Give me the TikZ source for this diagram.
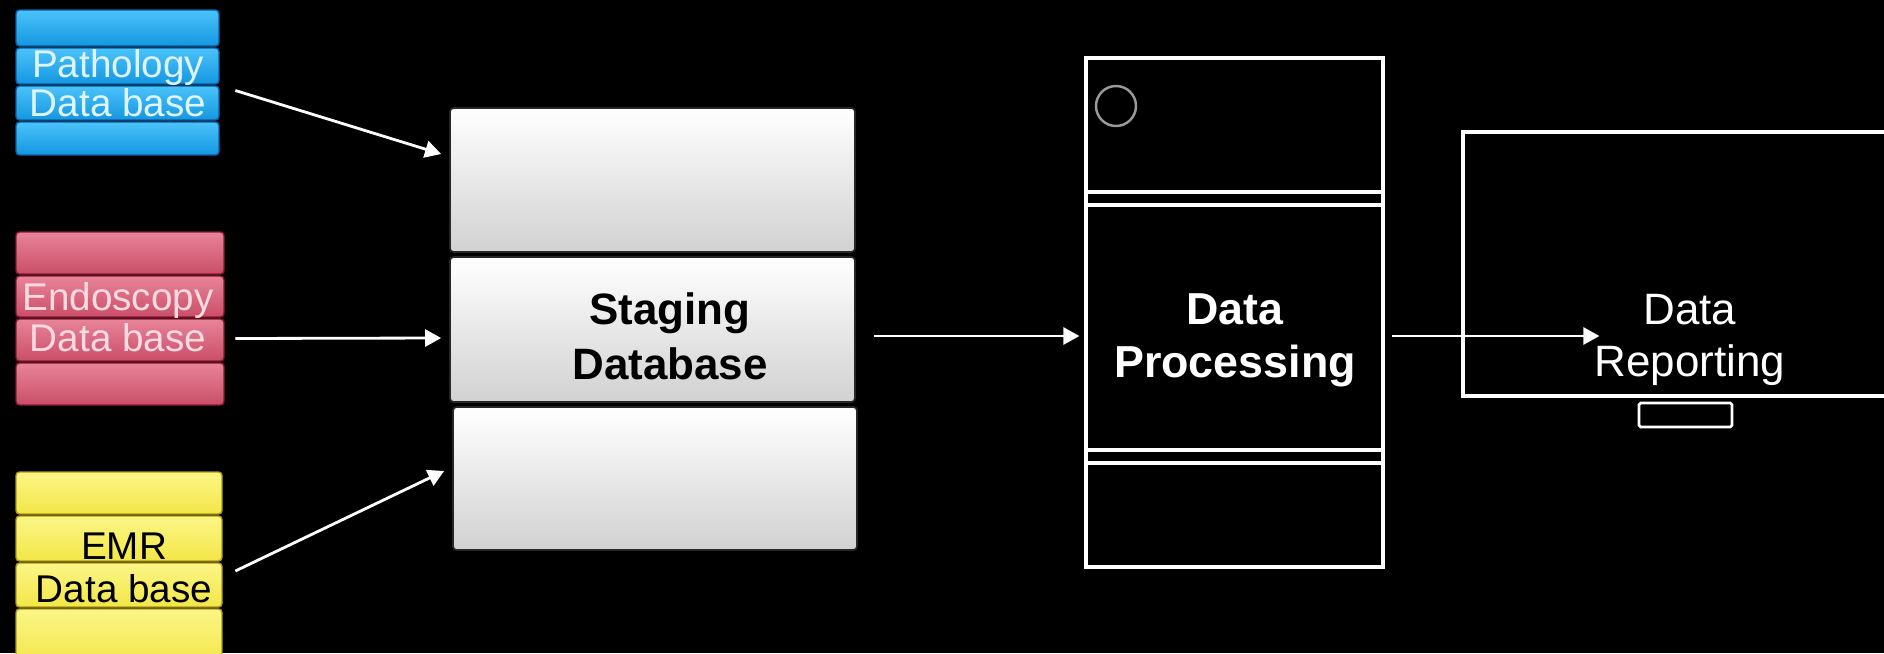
\documentclass[tikz,border=0pt]{standalone}
\usepackage{fontspec}
\setmainfont{Liberation Sans}
\usetikzlibrary{arrows.meta,fit}
\definecolor{blueT}{RGB}{75,195,250}
\definecolor{blueB}{RGB}{20,150,225}
\definecolor{blueS}{RGB}{10,95,165}
\definecolor{pinkT}{RGB}{232,132,152}
\definecolor{pinkB}{RGB}{202,78,104}
\definecolor{pinkS}{RGB}{140,25,50}
\definecolor{yelT}{RGB}{252,246,135}
\definecolor{yelB}{RGB}{242,230,70}
\definecolor{yelS}{RGB}{175,155,20}
\definecolor{pathtext}{RGB}{222,244,255}
\definecolor{endotext}{RGB}{250,218,225}
\tikzset{
  strip/.style={rounded corners=2pt, line width=0.8pt},
  bluestrip/.style={strip, top color=blueT, bottom color=blueB, draw=blueS},
  pinkstrip/.style={strip, top color=pinkT, bottom color=pinkB, draw=pinkS},
  yelstrip/.style={strip, top color=yelT, bottom color=yelB, draw=yelS},
  stagebox/.style={rounded corners=2pt, top color=white, bottom color=black!18, draw=black!85, line width=1pt, inner sep=0pt},
  outline/.style={draw=white, line width=1.8pt, inner sep=0pt},
  wline/.style={draw=white, line width=1.8pt},
  hidden/.style={inner sep=0pt},
  arr/.style={draw=white, line width=1.6pt, -{Triangle[length=0.32cm,width=0.34cm]}},
  txt/.style={inner sep=0pt, align=center}
}
\begin{document}
\begin{tikzpicture}[x=0.02cm,y=-0.02cm]
\path[use as bounding box, fill=black] (0,0) rectangle (1884,653);
\clip (0,0) rectangle (1884,653);

% Pathology database
\foreach \a/\b in {10/46, 48/84, 86/120, 122/155}
  \path[bluestrip] (16,\a) rectangle (219,\b);
\node[hidden, fit={(16,10)(219,155)}] (path) {};
\node[txt, text=pathtext, font=\fontsize{22}{22}\selectfont] (pathtxt) at (118,83) {Pathology\\Data base};

% Endoscopy database
\foreach \a/\b in {232/274, 276/317, 319/361, 363/405}
  \path[pinkstrip] (16,\a) rectangle (224,\b);
\node[hidden, fit={(16,232)(224,405)}] (endo) {};
\node[txt, text=endotext, font=\fontsize{22}{23}\selectfont] (endotxt) at (118,317) {Endoscopy\\Data base};

% EMR database
\foreach \a/\b in {472/514, 516/561, 563/607, 609/665}
  \path[yelstrip] (16,\a) rectangle (222,\b);
\node[hidden, fit={(16,472)(222,652)}] (emr) {};
\node[txt, text=black, font=\fontsize{22}{24.5}\selectfont] (emrtxt) at (124,568) {EMR\\Data base};

% Staging database
\node[stagebox, fit={(450,108)(855,252)}] (stA) {};
\node[stagebox, fit={(450,257)(855,402)}] (stB) {};
\node[stagebox, fit={(453,407)(857,550)}] (stC) {};
\node[txt, text=black, font=\fontsize{25}{31.5}\selectfont\bfseries] (stagetxt) at (670,336) {Staging\\Database};

% Data processing
\node[outline, fit={(1086,58)(1383,567)}] (proc) {};
\draw[wline] (1086,192) -- (1383,192);
\draw[wline] (1086,205) -- (1383,205);
\draw[wline] (1086,450) -- (1383,450);
\draw[wline] (1086,463) -- (1383,463);
\draw[draw=black!40, line width=1.4pt] (1116,106) circle[radius=20];
\node[txt, text=white, font=\fontsize{25.5}{30}\selectfont\bfseries] (proctxt) at (1235,340) {Data\\Processing};

% Data reporting monitor
\node[outline, fit={(1463,132)(1905,396)}] (mon) {};
\draw[wline, line width=1.5pt, rounded corners=1pt] (1639,403) rectangle (1732,427);
\node[txt, text=white, font=\fontsize{25}{30}\selectfont] (rep) at (1690,340) {Data\\Reporting};

% Connectors
\draw[arr] ([shift={(16,8)}]path.east) -- ([shift={(-8,-26)}]stA.west);
\draw[arr] ([shift={(11,20)}]endo.east) -- ([shift={(-8,8.5)}]stB.west);
\draw[arr] ([shift={(13,9)}]emr.east) -- ([shift={(-8,-7.5)}]stC.west);
\draw[arr] ([shift={(18,6.5)}]stB.east) -- ([shift={(-5,23.5)}]proc.west);
\draw[arr] ([shift={(7,23.5)}]proc.east) -- ([shift={(5,-4)}]rep.west);
\end{tikzpicture}
\end{document}
